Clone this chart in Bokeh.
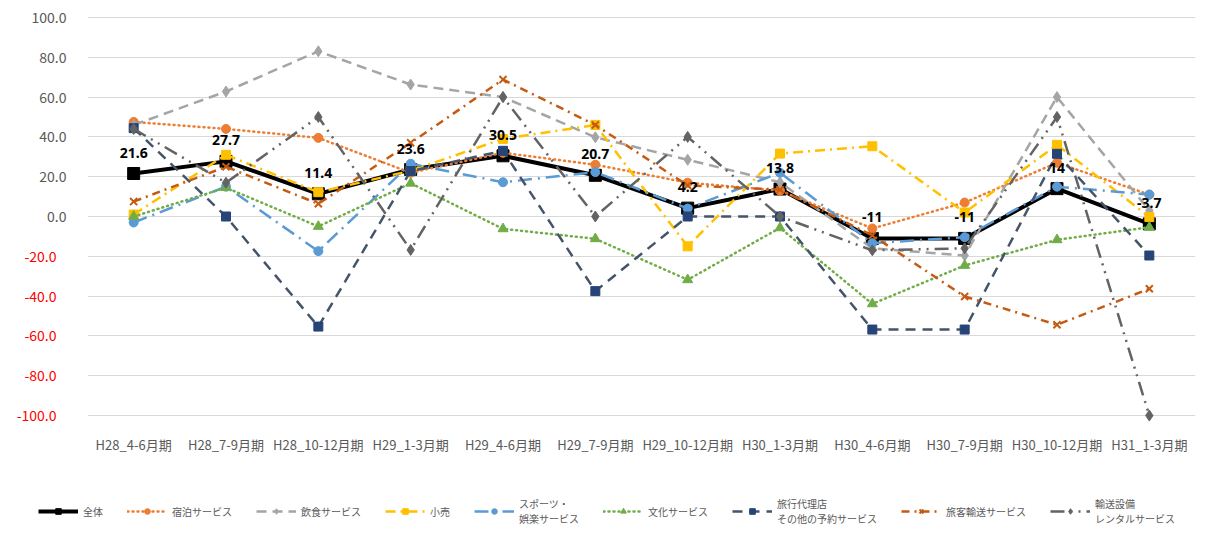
from bokeh.plotting import figure
from bokeh.models import (FactorRange, Range1d, FixedTicker, CustomJSTickFormatter,
                          Legend, LegendItem, ColumnDataSource, LinearAxis)
from bokeh.layouts import column
from bokeh.embed import file_html
from bokeh.resources import INLINE
from bokeh.core.properties import value

categories = ["H28_4-6月期", "H28_7-9月期", "H28_10-12月期", "H29_1-3月期",
              "H29_4-6月期", "H29_7-9月期", "H29_10-12月期", "H30_1-3月期",
              "H30_4-6月期", "H30_7-9月期", "H30_10-12月期", "H31_1-3月期"]

zentai = [21.6, 27.7, 11.4, 23.6, 30.5, 20.7, 4.2, 13.8, -11, -11, 14, -3.7]
shukuhaku = [47.5, 44, 39.5, 22, 32, 26, 17, 13, -6, 7, 27, 11]
inshoku = [46, 62.8, 83, 66.3, 60, 39.8, 28.5, 17.2, -16, -19.6, 60, 3]
kouri = [1, 31, 12.2, 23, 39, 46, -15, 31.6, 35.3, 2, 36, -0.3]
sports = [-3, 15, -17.4, 26.5, 17.2, 22.3, 4, 22, -13.4, -10.4, 15, 11]
bunka = [0, 14.5, -5, 16.7, -6.2, -11.2, -31.8, -5.7, -43.9, -24.6, -11.7, -5.4]
ryokou = [44.4, 0, -55.3, 22.8, 33, -37.5, 0, 0, -56.8, -56.8, 31.5, -19.6]
ryokaku = [7.5, 25, 6.4, 37, 68.8, 46, 15.6, 13.5, -9.5, -40.2, -54.4, -36.3]
yusou = [44, 17, 50, -16.8, 60, 0, 40, 0, -17, -16, 50, -100]

pos_ticks = [0, 20, 40, 60, 80, 100]
neg_ticks = [-100, -80, -60, -40, -20]

JP = "Noto Sans CJK JP"
GRAY_TXT = "#595959"

p = figure(x_range=FactorRange(*categories, range_padding=0), y_range=Range1d(-104, 104),
           width=1196, height=470, output_backend="svg", toolbar_location=None,
           min_border_left=87, min_border_right=1, min_border_top=9, min_border_bottom=47)
p.frame_align = False
p.outline_line_color = None
p.background_fill_color = "white"
p.border_fill_color = "white"

p.xgrid.grid_line_color = None
p.ygrid.grid_line_color = "#D9D9D9"
p.ygrid.grid_line_width = 1
p.ygrid.ticker = FixedTicker(ticks=neg_ticks + pos_ticks)

fmt = CustomJSTickFormatter(code="return tick.toFixed(1);")
p.yaxis.ticker = FixedTicker(ticks=pos_ticks)
p.yaxis.formatter = fmt

neg_axis = LinearAxis(ticker=FixedTicker(ticks=neg_ticks), formatter=fmt)
p.add_layout(neg_axis, "left")

for ax, col, so in ((p.yaxis[0], GRAY_TXT, 15), (neg_axis, "#FF0000", -34)):
    ax.axis_line_color = None
    ax.major_tick_line_color = None
    ax.minor_tick_line_color = None
    ax.major_label_text_color = col
    ax.major_label_text_font = JP
    ax.major_label_text_font_size = "14px"
    ax.major_label_standoff = so

p.xaxis.axis_line_color = None
p.xaxis.major_tick_line_color = None
p.xaxis.major_label_text_color = GRAY_TXT
p.xaxis.major_label_text_font = JP
p.xaxis.major_label_text_font_size = "13px"
p.xaxis.major_label_standoff = 5

series = [
    # name, data, line color, width, dash, marker, marker color, size
    ("全体", zentai, "#000000", 4, "solid", "square", "#000000", 12),
    ("宿泊サービス", shukuhaku, "#ED7D31", 2.5, "1 4", "circle", "#ED7D31", 9),
    ("飲食サービス", inshoku, "#A5A5A5", 2.5, "10 6", "diamond", "#A5A5A5", 11),
    ("小売", kouri, "#FFC000", 2.5, "10 5 2 5", "square", "#FFC000", 9),
    ("スポーツ・\n娯楽サービス", sports, "#5B9BD5", 2.5, "14 6 2 6", "circle", "#5B9BD5", 9),
    ("文化サービス", bunka, "#70AD47", 2.5, "1 4", "triangle", "#70AD47", 10),
    ("旅行代理店\nその他の予約サービス", ryokou, "#44546A", 2.5, "10 7", "square", "#264478", 9),
    ("旅客輸送サービス", ryokaku, "#C55A11", 2.5, "8 5 2 5", "x", "#C55A11", 10),
    ("輸送設備\nレンタルサービス", yusou, "#636363", 2.5, "14 6 2 6 2 6", "diamond", "#636363", 11),
]

# legend strip below the chart: same series, drawn outside its (empty) view
lg = figure(x_range=FactorRange(*categories, range_padding=0), y_range=Range1d(1000, 1056),
            width=1196, height=56, output_backend="svg", toolbar_location=None,
            x_axis_type=None, y_axis_type=None,
            min_border_left=0, min_border_right=0, min_border_top=0, min_border_bottom=0)
lg.frame_align = False
lg.grid.visible = False
lg.outline_line_color = None
lg.border_fill_color = "white"
lg.background_fill_color = "white"

items = []
for name, data, lc, lw, dash, marker, mc, ms in series:
    cap = "round" if dash == "1 4" else "butt"
    src = ColumnDataSource(dict(x=categories, y=data))
    p.line("x", "y", source=src, line_color=lc, line_width=lw, line_dash=dash,
           line_cap=cap, line_join="round")
    p.scatter("x", "y", source=src, marker=marker, size=ms, fill_color=mc,
              line_color=mc, line_width=2 if marker == "x" else 1)
    lr = lg.line("x", "y", source=src, line_color=lc, line_width=lw, line_dash=dash,
                 line_cap=cap)
    sr = lg.scatter("x", "y", source=src, marker=marker, size=ms * 0.8, fill_color=mc,
                    line_color=mc, line_width=2 if marker == "x" else 1)
    items.append(LegendItem(label=name, renderers=[lr, sr]))

# data labels for 全体
lab_src = ColumnDataSource(dict(x=categories, y=zentai, t=[f"{v:g}" for v in zentai]))
p.text("x", "y", text="t", source=lab_src, y_offset=-21, text_align="center",
       text_baseline="middle", text_color="#000000", text_font=value("Noto Sans"),
       text_font_style="bold", text_font_size="14px")

legend = Legend(items=items, orientation="horizontal", location=(38, 0),
                label_text_font=JP, label_text_font_size="10px",
                label_text_color=GRAY_TXT, glyph_width=40, glyph_height=14,
                label_standoff=5, spacing=24, padding=0, margin=0,
                border_line_color=None, background_fill_alpha=0)
lg.add_layout(legend)

layout = column(p, lg, spacing=0)
open("out.html", "w").write(file_html(layout, INLINE))
